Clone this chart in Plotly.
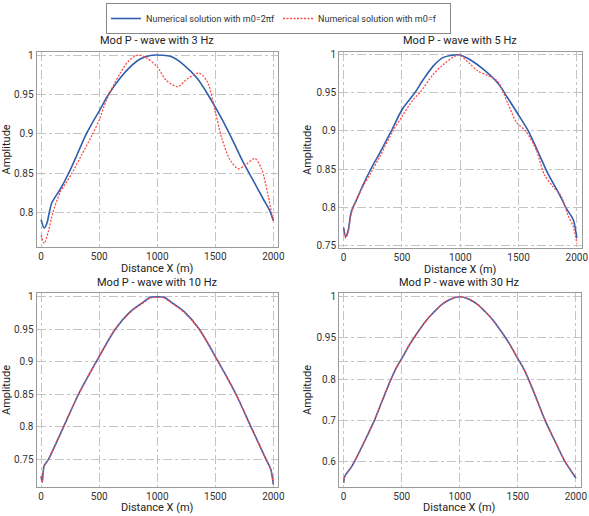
import plotly.graph_objects as go

# 3 Hz
x3_blue = [0, 26, 50, 69, 92, 164, 236, 307, 379, 437, 500, 580, 681, 767, 853, 940, 1000,
           1119, 1233, 1347, 1432, 1500, 1571, 1656, 1741, 1827, 1912, 1969, 2000]
a3_blue = [0.7915, 0.781, 0.787, 0.800, 0.813, 0.830, 0.850, 0.873, 0.897, 0.913, 0.929, 0.950,
           0.971, 0.985, 0.995, 0.9995, 1.0,
           0.998, 0.987, 0.970, 0.951, 0.934, 0.915, 0.890, 0.864, 0.841, 0.818, 0.803, 0.790]
x3_red = [0, 26, 63, 100, 164, 264, 350, 437, 500, 560, 624, 681, 739, 790, 840, 911, 1000,
          1077, 1176, 1261, 1361, 1432, 1500, 1557, 1628, 1699, 1770, 1841, 1898, 1955, 2000]
a3_red = [0.772, 0.7614, 0.777, 0.800, 0.826, 0.850, 0.874, 0.898, 0.918, 0.942, 0.962, 0.977,
          0.990, 0.997, 1.0, 0.996, 0.985,
          0.968, 0.960, 0.970, 0.977, 0.966, 0.928, 0.894, 0.867, 0.856, 0.862, 0.869, 0.856, 0.822, 0.788]

# 5 Hz
x5_blue = [0, 17, 37, 66, 109, 166, 237, 309, 409, 500, 609, 680, 766, 851, 951, 1000,
           1092, 1207, 1322, 1409, 1500, 1580, 1666, 1752, 1839, 1911, 1970, 2000]
a5_blue = [0.773, 0.761, 0.768, 0.794, 0.809, 0.829, 0.851, 0.871, 0.900, 0.928, 0.950, 0.967,
           0.985, 0.9965, 1.0, 1.0,
           0.993, 0.980, 0.963, 0.943, 0.921, 0.901, 0.873, 0.844, 0.820, 0.798, 0.783, 0.759]
x5_red = [0, 17, 37, 66, 109, 166, 237, 309, 423, 500, 594, 651, 766, 851, 951, 994,
          1078, 1150, 1236, 1322, 1409, 1480, 1566, 1652, 1723, 1795, 1867, 1924, 1970, 2000]
a5_red = [0.770, 0.759, 0.766, 0.792, 0.809, 0.827, 0.846, 0.866, 0.900, 0.919, 0.941, 0.950,
          0.974, 0.987, 0.998, 1.0,
          0.989, 0.979, 0.973, 0.965, 0.936, 0.912, 0.899, 0.875, 0.842, 0.827, 0.814, 0.789, 0.774, 0.752]

# 10 Hz
x10 = [0, 9, 26, 63, 193, 322, 475, 638, 768, 883, 941, 1000, 1059, 1117, 1232,
       1362, 1525, 1678, 1807, 1937, 1977, 2000]
a10_blue = [0.724, 0.715, 0.740, 0.750, 0.800, 0.850, 0.900, 0.950, 0.977, 0.992, 0.999, 1.0,
            0.999, 0.992, 0.977, 0.950, 0.900, 0.850, 0.800, 0.750, 0.735, 0.711]
a10_red = [0.724, 0.715, 0.740, 0.750, 0.800, 0.850, 0.900, 0.950, 0.976, 0.991, 0.998, 0.999,
           0.998, 0.991, 0.976, 0.950, 0.900, 0.850, 0.800, 0.750, 0.735, 0.711]

# 30 Hz
x30 = [0, 11, 60, 92, 180, 264, 335, 400, 450, 500, 570, 638, 710, 782, 850, 920, 1000,
       1080, 1150, 1218, 1290, 1362, 1430, 1500, 1550, 1600, 1665, 1736, 1820, 1908, 1950, 2000]
a30_blue = [0.550, 0.566, 0.585, 0.600, 0.650, 0.700, 0.750, 0.795, 0.826, 0.850, 0.885, 0.914,
            0.942, 0.964, 0.982, 0.994, 1.0,
            0.994, 0.982, 0.964, 0.942, 0.914, 0.885, 0.850, 0.826, 0.795, 0.750, 0.700, 0.650,
            0.600, 0.582, 0.561]
a30_red = [0.550, 0.566, 0.585, 0.600, 0.650, 0.700, 0.750, 0.795, 0.826, 0.850, 0.885, 0.914,
           0.942, 0.964, 0.982, 0.994, 1.0,
           0.994, 0.982, 0.964, 0.942, 0.914, 0.885, 0.850, 0.826, 0.795, 0.750, 0.700, 0.650,
           0.600, 0.582, 0.561]

titles = ['Mod P - wave with 3 Hz', 'Mod P - wave with 5 Hz',
          'Mod P - wave with 10 Hz', 'Mod P - wave with 30 Hz']
name_blue = 'Numerical solution with m0=2πf'
name_red = 'Numerical solution with m0=f'

W, H = 589, 516
FONT = 'Roboto'
BLUE = '#2f5fae'
RED = '#ff4a4a'

panels = [
    (x3_blue, a3_blue, x3_red, a3_red, [0.7569, 1.0042], [0.8, 0.85, 0.9, 0.95, 1], None),
    (x5_blue, a5_blue, x5_red, a5_red, [0.7457, 1.0043], [0.75, 0.8, 0.85, 0.9, 0.95, 1], None),
    (x10, a10_blue, x10, a10_red, [0.7079, 1.0052], [0.75, 0.8, 0.85, 0.9, 0.95, 1], None),
    (x30, a30_blue, x30, a30_red, [0.540, 1.0082], [0.6, 0.7, 0.8, 0.844, 0.9, 1],
     ['0.6', '0.7', '0.8', '', '0.95', '1']),
]
# pixel boxes (left, right, top, bottom)
boxes = [(36.5, 278, 51.7, 247), (339, 581.5, 51.7, 248.3),
         (36.5, 278, 293.3, 486.7), (339, 580.5, 293.3, 486.7)]

fig = go.Figure()
for i, (xb, yb, xr, yr, yrng, tv, tt) in enumerate(panels):
    n = '' if i == 0 else str(i + 1)
    l, r, t, b = boxes[i]
    fig.add_trace(go.Scatter(x=xb, y=yb, mode='lines', name=name_blue, legendgroup='b',
                             showlegend=(i == 0), line=dict(color=BLUE, width=1.6, shape='spline', smoothing=0.8),
                             xaxis='x' + n, yaxis='y' + n))
    fig.add_trace(go.Scatter(x=xr, y=yr, mode='lines', name=name_red, legendgroup='r',
                             showlegend=(i == 0),
                             line=dict(color=RED, width=1.3, dash='2px,1.5px', shape='spline', smoothing=0.8),
                             xaxis='x' + n, yaxis='y' + n))
    ax = dict(showline=True, mirror=True, linecolor='#9a9a9a', linewidth=1, automargin=False,
              showgrid=True, gridcolor='#c4c4c4', griddash='dashdot', gridwidth=1,
              zeroline=False, ticks='', tickfont=dict(size=10, color='#333'))
    fig.layout['xaxis' + n] = dict(ax, domain=[l / W, r / W], range=[-40, 2040], anchor='y' + n,
                                   tickvals=[0, 500, 1000, 1500, 2000])
    yax = dict(ax, domain=[1 - b / H, 1 - t / H], range=yrng, anchor='x' + n, tickvals=tv,
               title=dict(text='Amplitude', font=dict(size=11, color='#222'), standoff=2))
    if tt:
        yax['ticktext'] = tt
    fig.layout['yaxis' + n] = yax
    # panel title and x axis title
    fig.add_annotation(text=titles[i], x=(l + r) / 2 / W, y=1 - (t - 11) / H, xref='paper', yref='paper',
                       showarrow=False, font=dict(size=11, color='#222'), xanchor='center', yanchor='middle')
    fig.add_annotation(text='Distance X (m)', x=(l + r) / 2 / W, y=1 - (b + 21) / H, xref='paper', yref='paper',
                       showarrow=False, font=dict(size=11, color='#222'), xanchor='center', yanchor='middle')

fig.update_layout(
    width=W, height=H, margin=dict(l=0, r=0, t=0, b=0),
    paper_bgcolor='white', plot_bgcolor='white',
    font=dict(family=FONT, color='#333'),
    legend=dict(orientation='h', x=106 / W, y=1 - 3 / H, xanchor='left', yanchor='top',
                bordercolor='#888', borderwidth=1, font=dict(size=9, color='#333'),
                itemwidth=30, entrywidth=127, bgcolor='white', tracegroupgap=0),
)

fig.write_html("out.html", config={'displayModeBar': False},
               post_script="document.body.style.margin='0';")
